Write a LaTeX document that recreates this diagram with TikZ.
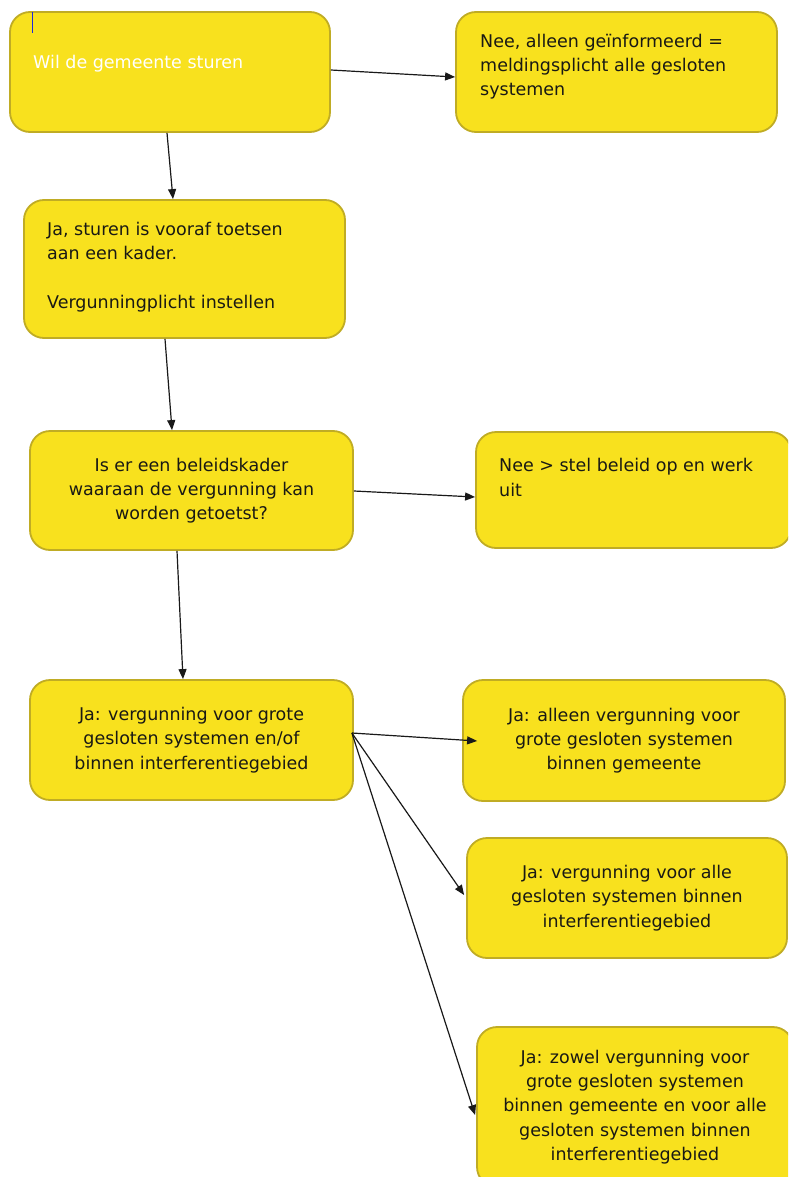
\documentclass[tikz,border=0pt]{standalone}
\usepackage{fontspec}
\setmainfont{DejaVu Sans}
\usetikzlibrary{arrows.meta}
\definecolor{boxfill}{RGB}{248,225,30}
\definecolor{boxborder}{RGB}{192,172,36}
\definecolor{txt}{RGB}{25,25,20}
\definecolor{cursorblue}{RGB}{30,40,220}
\tikzset{
  box/.style={draw=boxborder, fill=boxfill, line width=1.8pt, rounded corners=20pt, inner sep=0pt, align=center, text=txt, font=\fontsize{17.5}{24.3}\selectfont},
  lefttext/.style={anchor=north west, inner sep=0pt, align=left, text=txt, font=\fontsize{17.5}{24.3}\selectfont},
  arr/.style={draw=black!90, line width=1.2pt, -{Triangle[length=10pt,width=8pt]}},
}
\begin{document}
\begin{tikzpicture}[x=1pt,y=-1pt]
\useasboundingbox (0,0) rectangle (788,1177);
\begin{scope}
\clip (0,0) rectangle (788,1177);
% boxes
\node[box, minimum width=320pt, minimum height=120pt] (a) at (170,72) {};
\node[box, minimum width=321pt, minimum height=120pt] (b) at (616.5,72) {};
\node[box, minimum width=321pt, minimum height=138pt] (c) at (184.5,269) {};
\node[box, minimum width=323pt, minimum height=119pt] (d) at (191.5,490.5) {Is er een beleidskader\\waaraan de vergunning kan\\worden getoetst?};
\node[box, minimum width=315pt, minimum height=116pt] (e) at (633.5,490) {};
\node[box, minimum width=323pt, minimum height=120pt] (f) at (191.5,740) {Ja: vergunning voor grote\\gesloten systemen en/of\\binnen interferentiegebied};
\node[box, minimum width=322pt, minimum height=121pt] (g) at (624,740.5) {Ja: alleen vergunning voor\\grote gesloten systemen\\binnen gemeente};
\node[box, minimum width=320pt, minimum height=120pt] (h) at (627,898) {Ja: vergunning voor alle\\gesloten systemen binnen\\interferentiegebied};
\node[box, minimum width=316pt, minimum height=160pt] (i) at (635,1107) {Ja: zowel vergunning voor\\grote gesloten systemen\\binnen gemeente en voor alle\\gesloten systemen binnen\\interferentiegebied};
% left-aligned texts
\node[lefttext, text=white] (at) at (33,54.7) {Wil de gemeente sturen};
\node[lefttext] (bt) at (480,33.7) {Nee, alleen geïnformeerd =\\meldingsplicht alle gesloten\\systemen};
\node[lefttext] (ct) at (47,221.7) {Ja, sturen is vooraf toetsen\\aan een kader.\\[24.3pt]Vergunningplicht instellen};
\node[lefttext] (et) at (499,458.4) {Nee > stel beleid op en werk\\uit};
% cursor mark
\draw[cursorblue, line width=1pt] (32.5,12) -- (32.5,33);
% connectors
\draw[arr] ([yshift=2pt]a.east) -- ([yshift=-5pt]b.west);
\draw[arr] ([xshift=-3pt]a.south) -- ([xshift=-11.5pt]c.north);
\draw[arr] ([xshift=-19.5pt]c.south) -- ([xshift=-19.5pt]d.north);
\draw[arr] ([yshift=-0.5pt]d.east) -- ([yshift=-7pt]e.west);
\draw[arr] ([xshift=-14.5pt]d.south) -- ([xshift=-8.5pt]f.north);
\coordinate (fo) at ([xshift=-2pt,yshift=7pt]f.east);
\draw[arr] (fo) -- ([xshift=15pt,yshift=-0.5pt]g.west);
\draw[arr] (fo) -- ([xshift=-2pt,yshift=3pt]h.west);
\draw[arr] (fo) -- ([xshift=-1pt,yshift=-8pt]i.west);
\end{scope}
\end{tikzpicture}
\end{document}
